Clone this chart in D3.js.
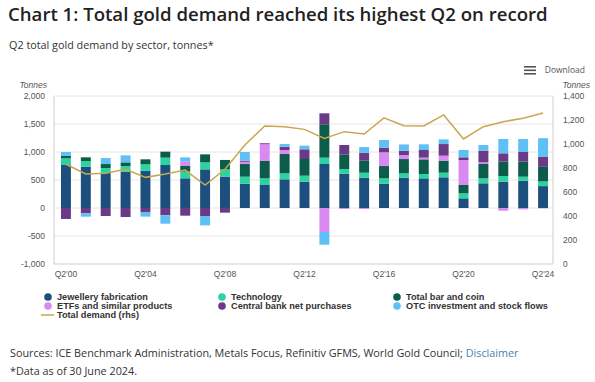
<!DOCTYPE html>
<html><head><meta charset="utf-8">
<script src="https://cdn.jsdelivr.net/npm/d3@7"></script>
<style>
html,body{margin:0;padding:0;background:#fff;}
svg{display:block;}
</style></head>
<body>
<svg id="chart" width="595" height="382"></svg>
<script>
const categories = ["Q2'00","Q2'01","Q2'02","Q2'03","Q2'04","Q2'05","Q2'06","Q2'07","Q2'08","Q2'09","Q2'10","Q2'11","Q2'12","Q2'13","Q2'14","Q2'15","Q2'16","Q2'17","Q2'18","Q2'19","Q2'20","Q2'21","Q2'22","Q2'23","Q2'24"];
const jewellery  = [768,738,625,648,667,768,530,690,560,434,411,512,470,786,613,541,434,541,530,548,173,441,470,488,391];
const technology = [119,101, 89,101,113,131,120,125,131,125,119,107,107,113, 83, 89, 95, 77, 77, 83, 89, 89,101, 71, 83];
const barCoin    = [ 42, 66, 71, 66, 89,107,100,143,167,226,310,345,298,596,262,214,220,256,262,214,149,256,256,268,261];
const etfs       = [  0,  0,  0,  0,  0,  0, 77,  0,  0, 40,298, 71,  0,-429,-18,-18,245, 71, 30, 89,446, 30,-48,-24, -7];
const centralBanks=[-196,-95,-143,-161,-71,-131,-137,-143,-83,20,18, 60,173,196,167,143, 83, 77,137,208, 48,208,149,173,183];
const otc        = [ 71,-60,107,125,-83,-149, 77,-167,  0,155,  0, 48, 65,-226,  0,101,137,113,101, 83,131,101,256,232,329];
const totalDemand= [831,750,756,789,722,750,783,658,789,992,1150,1144,1122,1047,1103,1083,1218,1153,1150,1242,1042,1144,1186,1214,1258];
const seriesNames = ["Jewellery fabrication","Technology","Total bar and coin","ETFs and similar products","Central bank net purchases","OTC investment and stock flows"];
const lineName = "Total demand (rhs)";
const leftTicks = [-1000,-500,0,500,1000,1500,2000];
const rightTicks = [0,200,400,600,800,1000,1200,1400];
const xTickLabels = ["Q2'00","Q2'04","Q2'08","Q2'12","Q2'16","Q2'20","Q2'24"];

const colors = ["#1d4f7e","#2ad3a0","#0b5c4a","#d88af0","#6a3a86","#5ec0f5"];
const lineColor = "#c9a74c";

const svg = d3.select("#chart");
const L = 54, R = 553, T = 96, B = 264;

const table = categories.map((c,i)=>({cat:c, s0:jewellery[i], s1:technology[i], s2:barCoin[i], s3:etfs[i], s4:centralBanks[i], s5:otc[i], total:totalDemand[i]}));
const keys = ["s0","s1","s2","s3","s4","s5"];
const stacked = d3.stack().keys(keys).offset(d3.stackOffsetDiverging)(table);

const x = d3.scaleBand().domain(categories).range([L+2, R]).paddingInner(0.5).paddingOuter(0.25);
const yL = d3.scaleLinear().domain([-1000,2000]).range([B,T]);
const yR = d3.scaleLinear().domain([0,1400]).range([B,T]);

const fmt = v => d3.format(",")(v).replace("\u2212","-");

// gridlines
svg.append("g").selectAll("line").data(leftTicks.filter(t=>t>-1000)).join("line")
  .attr("x1",L).attr("x2",R).attr("y1",d=>yL(d)).attr("y2",d=>yL(d))
  .attr("stroke","#e6e6e6").attr("stroke-width",1);
// frame
svg.append("path").attr("d",`M${L},${T}V${B}H${R}V${T}`).attr("fill","none").attr("stroke","#cfcfcf").attr("stroke-width",1);

// bars
svg.append("g").selectAll("g").data(stacked).join("g").attr("fill",(d,i)=>colors[i])
  .selectAll("rect").data(d=>d).join("rect")
  .attr("x",d=>x(d.data.cat)).attr("width",x.bandwidth())
  .attr("y",d=>yL(Math.max(d[0],d[1]))).attr("height",d=>Math.abs(yL(d[0])-yL(d[1])));

// line
svg.append("path").datum(table)
  .attr("d", d3.line().x(d=>x(d.cat)+x.bandwidth()/2).y(d=>yR(d.total)))
  .attr("fill","none").attr("stroke",lineColor).attr("stroke-width",1.5);

// axes
const axFont = "'Liberation Sans', Arial, sans-serif";
const gl = svg.append("g").attr("transform",`translate(${L},0)`)
  .call(d3.axisLeft(yL).tickValues(leftTicks).tickFormat(fmt).tickSize(0).tickPadding(9));
const gr = svg.append("g").attr("transform",`translate(${R},0)`)
  .call(d3.axisRight(yR).tickValues(rightTicks).tickFormat(fmt).tickSize(0).tickPadding(10));
const gx = svg.append("g").attr("transform",`translate(0,${B})`)
  .call(d3.axisBottom(x).tickValues(xTickLabels).tickSize(0).tickPadding(7));
[gl,gr,gx].forEach(g=>{
  g.select(".domain").remove();
  g.selectAll("text").attr("font-family",axFont).attr("font-size",8.5).attr("fill","#555");
});

svg.append("text").attr("x",47).attr("y",88).attr("text-anchor","end").text("Tonnes")
  .attr("font-family",axFont).attr("font-size",8.5).attr("font-style","italic").attr("fill","#555");
svg.append("text").attr("x",590).attr("y",88).attr("text-anchor","end").text("Tonnes")
  .attr("font-family",axFont).attr("font-size",8.5).attr("font-style","italic").attr("fill","#555");

function fit(sel, w){
  const cur = sel.node().getComputedTextLength();
  const fs = parseFloat(sel.attr("font-size"));
  sel.attr("font-size", fs*w/cur);
}
const title = svg.append("text").attr("x",8).attr("y",21).text("Chart 1: Total gold demand reached its highest Q2 on record")
  .attr("font-family","'Open Sans', sans-serif").attr("font-weight",600).attr("font-size",19).attr("fill","#222");
fit(title, 540);
const sub = svg.append("text").attr("x",9).attr("y",49).text("Q2 total gold demand by sector, tonnes*")
  .attr("font-family","'Open Sans', sans-serif").attr("font-size",12).attr("fill","#333");
fit(sub, 205);

// download
const dg = svg.append("g").attr("transform","translate(524,66)");
[0,3.5,7].forEach(o=>dg.append("rect").attr("x",0).attr("y",o).attr("width",12).attr("height",1.6).attr("fill","#555"));
svg.append("text").attr("x",585).attr("y",73).attr("text-anchor","end").text("Download")
  .attr("font-family","'Open Sans', sans-serif").attr("font-size",8.5).attr("fill","#555");

// legend
const legPos = [[48,297],[48,306],[222,297],[222,306],[397,297],[397,306]];
const legOrder = [[0,0],[3,1],[1,2],[4,3],[2,4],[5,5]];
const lg = svg.append("g");
// measure legend font so the longest label matches the reference width
const probe = lg.append("text").attr("font-family",axFont).attr("font-weight","bold").attr("font-size",8.3).text(seriesNames[5]);
fit(probe, 142);
const legFs = probe.attr("font-size");
probe.remove();
legOrder.forEach(([si,pi])=>{
  const [cx,cy] = legPos[pi];
  lg.append("circle").attr("cx",cx).attr("cy",cy).attr("r",3.8).attr("fill",colors[si]);
  lg.append("text").attr("x",cx+9).attr("y",cy+3.2).text(seriesNames[si])
    .attr("font-family",axFont).attr("font-weight","bold").attr("font-size",legFs).attr("fill","#333");
});
lg.append("line").attr("x1",41).attr("x2",54).attr("y1",315).attr("y2",315).attr("stroke",lineColor).attr("stroke-width",1.5);
lg.append("text").attr("x",57).attr("y",318.2).text(lineName)
  .attr("font-family",axFont).attr("font-weight","bold").attr("font-size",legFs).attr("fill","#333");

// sources
const src = svg.append("text").attr("x",10).attr("y",357)
  .attr("font-family","'Open Sans', sans-serif").attr("font-size",11).attr("fill","#333");
src.append("tspan").text("Sources: ICE Benchmark Administration, Metals Focus, Refinitiv GFMS, World Gold Council; ");
src.append("tspan").attr("fill","#4a7fae").text("Disclaimer");
fit(src, 509);
const note = svg.append("text").attr("x",10).attr("y",375).text("*Data as of 30 June 2024.")
  .attr("font-family","'Open Sans', sans-serif").attr("font-size",11).attr("fill","#333");
note.attr("font-size", src.attr("font-size"));
</script>
</body></html>
